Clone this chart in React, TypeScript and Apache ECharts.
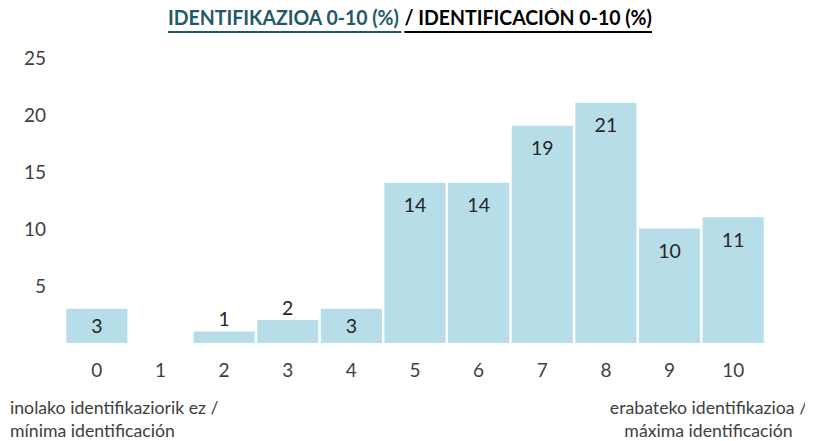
import React, { useEffect, useRef } from "react";
import * as echarts from "echarts";

const categories = ["0", "1", "2", "3", "4", "5", "6", "7", "8", "9", "10"];
const values = [3, 0, 1, 2, 3, 14, 14, 19, 21, 10, 11];
const yTicks = [0, 5, 10, 15, 20, 25];
const titleEu = "IDENTIFIKAZIOA 0-10 (%) ";
const titleEs = "/ IDENTIFICACIÓN 0-10 (%)";
const leftNote = ["inolako identifikaziorik ez /", "mínima identificación"];
const rightNote = ["erabateko identifikazioa /", "máxima identificación"];

const FONT = "Lato, 'Noto Sans', sans-serif";
const TEAL = "#215967";
const BAR = "#B7DEE8";
const AXIS_TXT = "#404040";

function measure(text: string, font: string): number {
  const c = document.createElement("canvas");
  const ctx = c.getContext("2d")!;
  ctx.font = font;
  return ctx.measureText(text).width;
}

export default function App() {
  const ref = useRef<HTMLDivElement>(null);
  useEffect(() => {
    if (!ref.current) return;
    const chart = echarts.init(ref.current, undefined, { renderer: "svg" });

    // Title layout: a slightly condensed bold title fitted to the reference width
    const targetW = 484;
    const tSize = 20;
    const tFont = `bold ${tSize}px Lato`;
    const w1raw = measure(titleEu, tFont);
    const w2raw = measure(titleEs, tFont);
    const sx = Math.min(1, targetW / (w1raw + w2raw));
    const w1 = w1raw * sx;
    const w2 = w2raw * sx;
    const cx = 410;
    const x0 = cx - (w1 + w2) / 2;
    const ty = 7;
    const uy = 32;

    const data = values.map((v) => {
      let label: any;
      if (v === 0) label = { show: false };
      else if (v < 3) label = { show: true, position: "top", distance: 3 };
      else if (v < 5) label = { show: true, position: "inside" };
      else label = { show: true, position: "insideTop", distance: 12 };
      return { value: v, label };
    });

    chart.setOption({
      animation: false,
      textStyle: { fontFamily: FONT },
      grid: { left: 65, right: 48, top: 57, bottom: 98, containLabel: false },
      xAxis: {
        type: "category",
        data: categories,
        axisLine: { show: false },
        axisTick: { show: false },
        axisLabel: { color: AXIS_TXT, fontSize: 19, margin: 17, fontFamily: FONT },
      },
      yAxis: {
        type: "value",
        min: yTicks[0],
        max: yTicks[yTicks.length - 1],
        interval: yTicks[1] - yTicks[0],
        splitLine: { show: false },
        axisLine: { show: false },
        axisTick: { show: false },
        axisLabel: {
          color: AXIS_TXT,
          fontSize: 19,
          margin: 19,
          fontFamily: FONT,
          formatter: (v: number) => (v === 0 ? "" : String(v)),
        },
      },
      series: [
        {
          type: "bar",
          data,
          barCategoryGap: "4%",
          itemStyle: { color: BAR },
          label: { color: "#262626", fontSize: 19.5, fontFamily: FONT },
        },
      ],
      graphic: [
        {
          type: "text",
          x: x0,
          y: ty,
          scaleX: sx,
          style: { text: titleEu, font: tFont, fill: TEAL, textAlign: "left", textVerticalAlign: "top" },
        },
        {
          type: "text",
          x: x0 + w1,
          y: ty,
          scaleX: sx,
          style: { text: titleEs, font: tFont, fill: "#000000", textAlign: "left", textVerticalAlign: "top" },
        },
        {
          type: "line",
          shape: { x1: x0, y1: uy, x2: x0 + w1 - 3, y2: uy },
          style: { stroke: TEAL, lineWidth: 2 },
        },
        {
          type: "line",
          shape: { x1: x0 + w1, y1: uy, x2: x0 + w1 + w2, y2: uy },
          style: { stroke: "#000000", lineWidth: 2 },
        },
        {
          type: "text",
          x: 10,
          y: 396,
          style: {
            text: leftNote.join("\n"),
            font: `17.7px ${FONT}`,
            fill: AXIS_TXT,
            textAlign: "left",
            lineHeight: 23,
          },
        },
        {
          type: "text",
          x: 708.5,
          y: 396,
          style: {
            text: rightNote.join("\n"),
            font: `17.7px ${FONT}`,
            fill: AXIS_TXT,
            textAlign: "center",
            lineHeight: 23,
          },
        },
      ],
    });
    return () => chart.dispose();
  }, []);
  return <div ref={ref} style={{ width: 813, height: 441, marginLeft: -8, marginTop: -8 }} />;
}
